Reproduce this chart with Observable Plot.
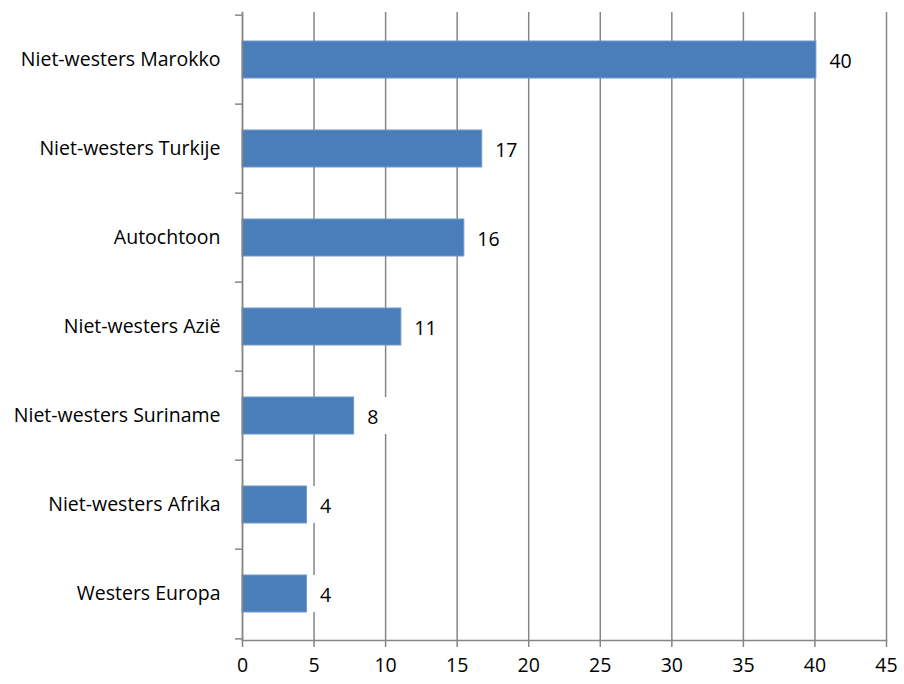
<!DOCTYPE html>
<html>
<head>
<meta charset="utf-8">
<script src="https://cdn.jsdelivr.net/npm/d3@7"></script>
<script src="https://cdn.jsdelivr.net/npm/@observablehq/plot@0.6"></script>
<style>
  html, body { margin: 0; padding: 0; background: #fff; }
  #chart svg { display: block; }
</style>
</head>
<body>
<div id="chart"></div>
<script>
const categories = ["Niet-westers Marokko", "Niet-westers Turkije", "Autochtoon", "Niet-westers Azië", "Niet-westers Suriname", "Niet-westers Afrika", "Westers Europa"];
const values = [40.1, 16.75, 15.5, 11.1, 7.8, 4.5, 4.5];
const valueLabels = ["40", "17", "16", "11", "8", "4", "4"];
const xTicks = [0, 5, 10, 15, 20, 25, 30, 35, 40, 45];

const data = categories.map((c, i) => ({category: c, value: values[i], label: valueLabels[i]}));

const W = 904, H = 684;
const mTop = 12, mBottom = 44, mLeft = 242, mRight = 18;
const bw = (H - mTop - mBottom) / categories.length;
const font = "Open Sans";
const fs = 19.5;
const grey = "#868686";

const chart = Plot.plot({
  width: W,
  height: H,
  marginTop: mTop,
  marginBottom: mBottom,
  marginLeft: mLeft,
  marginRight: mRight,
  style: {fontFamily: font, fontSize: fs + "px", color: "#000", background: "#fff"},
  x: {domain: [0, 45]},
  y: {domain: categories, padding: 0, label: null},
  marks: [
    Plot.gridX(xTicks, {stroke: grey, strokeOpacity: 1, strokeWidth: 1.5}),
    Plot.barX(data, {y: "category", x: "value", fill: "#4a7ebb", stroke: "#6f97c9", strokeWidth: 1, insetTop: 26, insetBottom: 26}),
    Plot.barX(data.filter(d => d.label.length === 2), {y: "category", x1: "value", x2: "value", fill: "white", insetLeft: 3, insetRight: -42, insetTop: 26, insetBottom: 26}),
    Plot.barX(data.filter(d => d.label.length === 1), {y: "category", x1: "value", x2: "value", fill: "white", insetLeft: 3, insetRight: -34, insetTop: 26, insetBottom: 26}),
    Plot.text(data, {y: "category", x: "value", text: "label", dx: 13, dy: 2, textAnchor: "start", fill: "#000", fontSize: fs}),
    Plot.axisX(xTicks, {tickSize: 7, tickPadding: 11, stroke: grey, strokeWidth: 1.5, fill: "#000", label: null, fontSize: fs}),
    Plot.axisY({tickSize: 0, tickPadding: 22, fill: "#000", label: null, fontSize: fs}),
    Plot.axisY({tickSize: 7, text: null, stroke: grey, strokeWidth: 1.5, dy: -bw / 2, label: null}),
    Plot.axisY(categories.slice(-1), {tickSize: 7, text: null, stroke: grey, strokeWidth: 1.5, dy: bw / 2, label: null}),
    Plot.frame({anchor: "left", stroke: grey, strokeWidth: 1.5}),
    Plot.frame({anchor: "bottom", stroke: grey, strokeWidth: 1.5})
  ]
});
document.getElementById("chart").appendChild(chart);
</script>
</body>
</html>
